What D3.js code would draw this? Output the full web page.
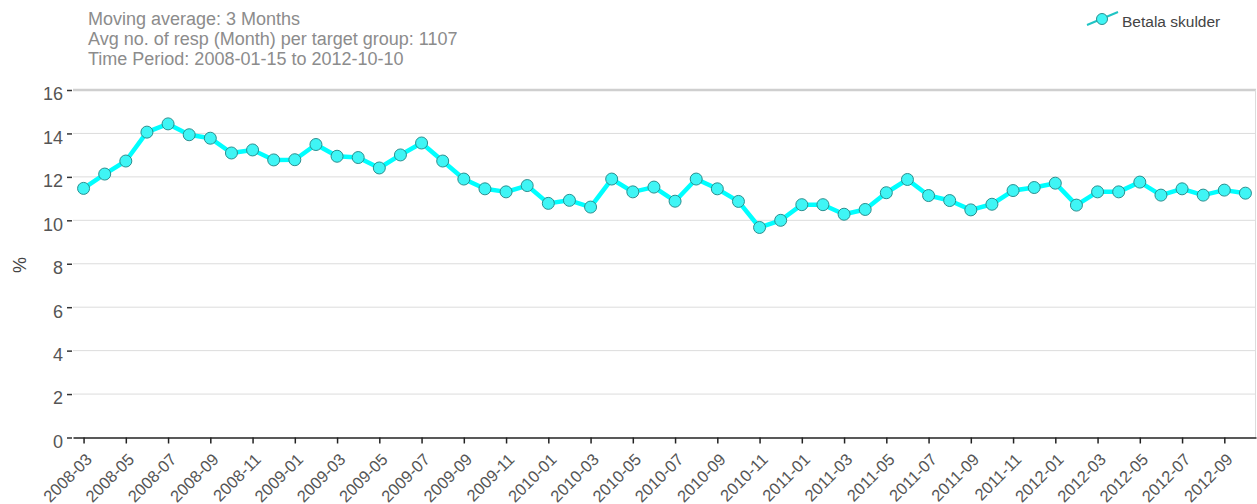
<!DOCTYPE html>
<html>
<head>
<meta charset="utf-8">
<script src="https://cdn.jsdelivr.net/npm/d3@7"></script>
<style>
  body { margin: 0; background: #fff; }
  svg { font-family: "Liberation Sans", Arial, sans-serif; }
</style>
</head>
<body>
<svg id="chart" width="1257" height="504"></svg>
<script>
// months shown on the chart (3 month moving average)
var months = ["2008-03","2008-04","2008-05","2008-06","2008-07","2008-08","2008-09","2008-10","2008-11","2008-12",
  "2009-01","2009-02","2009-03","2009-04","2009-05","2009-06","2009-07","2009-08","2009-09","2009-10","2009-11","2009-12",
  "2010-01","2010-02","2010-03","2010-04","2010-05","2010-06","2010-07","2010-08","2010-09","2010-10","2010-11","2010-12",
  "2011-01","2011-02","2011-03","2011-04","2011-05","2011-06","2011-07","2011-08","2011-09","2011-10","2011-11","2011-12",
  "2012-01","2012-02","2012-03","2012-04","2012-05","2012-06","2012-07","2012-08","2012-09","2012-10"];

var betalaSkulder = [11.47, 12.13, 12.73, 14.06, 14.44, 13.94, 13.78, 13.10, 13.24, 12.78,
  12.79, 13.49, 12.95, 12.89, 12.41, 13.01, 13.56, 12.73, 11.90, 11.45, 11.31, 11.60,
  10.78, 10.92, 10.61, 11.90, 11.31, 11.53, 10.88, 11.90, 11.45, 10.87, 9.67, 10.00,
  10.72, 10.72, 10.28, 10.50, 11.27, 11.88, 11.14, 10.91, 10.48, 10.74, 11.37, 11.51,
  11.71, 10.70, 11.31, 11.31, 11.76, 11.16, 11.45, 11.16, 11.39, 11.25];

var yTicks = [0, 2, 4, 6, 8, 10, 12, 14, 16];
var xTickLabels = months.filter(function (m, i) { return i % 2 == 0; });

var headerLines = ["Moving average: 3 Months",
  "Avg no. of resp (Month) per target group: 1107",
  "Time Period: 2008-01-15 to 2012-10-10"];
var seriesName = "Betala skulder";

var svg = d3.select("#chart");
var margin = { top: 90, right: 1, bottom: 66.5, left: 73 };
var width = 1257 - margin.left - margin.right;
var height = 504 - margin.top - margin.bottom;

var x = d3.scalePoint().domain(months).range([0, width]).padding(0.5);
var y = d3.scaleLinear().domain([0, 16]).range([height, 0]);

var g = svg.append("g").attr("transform", "translate(" + margin.left + "," + margin.top + ")");

// header text
svg.append("g").selectAll("text")
  .data(headerLines)
  .enter().append("text")
  .attr("x", 88)
  .attr("y", function (d, i) { return 25 + i * 20; })
  .attr("fill", "#8c8c8c")
  .attr("font-size", "18px")
  .text(function (d) { return d; });

// gridlines
g.append("g").selectAll("line")
  .data(yTicks.filter(function (t) { return t > 0; }))
  .enter().append("line")
  .attr("x1", 0).attr("x2", width)
  .attr("y1", function (d) { return y(d); })
  .attr("y2", function (d) { return y(d); })
  .attr("stroke", function (d) { return d == 16 ? "#cfcfcf" : "#dcdcdc"; })
  .attr("stroke-width", function (d) { return d == 16 ? 2.5 : 1; });

// right border
g.append("line")
  .attr("x1", width - 0.5).attr("x2", width - 0.5)
  .attr("y1", y(16)).attr("y2", height)
  .attr("stroke", "#dcdcdc");

// y axis
var yAxis = g.append("g")
  .call(d3.axisLeft(y).tickValues(yTicks).tickSize(5).tickPadding(4));
yAxis.select(".domain").remove();
yAxis.selectAll(".tick line").attr("stroke", "#333").attr("stroke-width", 1.5).attr("transform", "translate(-1,0)");
yAxis.selectAll(".tick text")
  .attr("fill", "#555")
  .attr("font-size", "18px")
  .attr("font-family", "Liberation Sans, Arial, sans-serif")
  .attr("x", -10)
  .attr("dy", "0.55em");

// x axis
var xAxis = g.append("g")
  .attr("transform", "translate(0," + height + ")")
  .call(d3.axisBottom(x).tickValues(xTickLabels).tickSize(6).tickSizeOuter(0));
xAxis.select(".domain").attr("stroke", "#222").attr("stroke-width", 1.5);
xAxis.selectAll(".tick line").attr("stroke", "#222").attr("stroke-width", 1.5);
xAxis.selectAll(".tick text")
  .attr("fill", "#555")
  .attr("font-size", "16.5px")
  .attr("font-family", "Liberation Sans, Arial, sans-serif")
  .attr("text-anchor", "end")
  .attr("y", 0)
  .attr("dy", 0)
  .attr("transform", "translate(9,23) rotate(-45)");

// y axis title
svg.append("text")
  .attr("transform", "translate(26,265) rotate(-90)")
  .attr("text-anchor", "middle")
  .attr("fill", "#444")
  .attr("font-size", "18px")
  .text("%");

// series line
var line = d3.line()
  .x(function (d, i) { return x(months[i]); })
  .y(function (d) { return y(d); });

g.append("path")
  .datum(betalaSkulder)
  .attr("d", line)
  .attr("fill", "none")
  .attr("stroke", "#00ffff")
  .attr("stroke-width", 4.5)
  .attr("stroke-linejoin", "round");

g.append("g").selectAll("circle")
  .data(betalaSkulder)
  .enter().append("circle")
  .attr("cx", function (d, i) { return x(months[i]); })
  .attr("cy", function (d) { return y(d); })
  .attr("r", 6)
  .attr("fill", "#3ff5f5")
  .attr("stroke", "#2a8f8f")
  .attr("stroke-width", 1);

// legend
var legend = svg.append("g").attr("transform", "translate(1102,19)");
legend.append("line")
  .attr("x1", -15).attr("y1", 6).attr("x2", 16).attr("y2", -7)
  .attr("stroke", "#20c4c4").attr("stroke-width", 2);
legend.append("circle")
  .attr("cx", 0).attr("cy", 0).attr("r", 5.5)
  .attr("fill", "#3ff5f5").attr("stroke", "#2a8f8f");
legend.append("text")
  .attr("x", 20).attr("y", 7.5)
  .attr("fill", "#444")
  .attr("font-size", "15.5px")
  .text(seriesName);
</script>
</body>
</html>
